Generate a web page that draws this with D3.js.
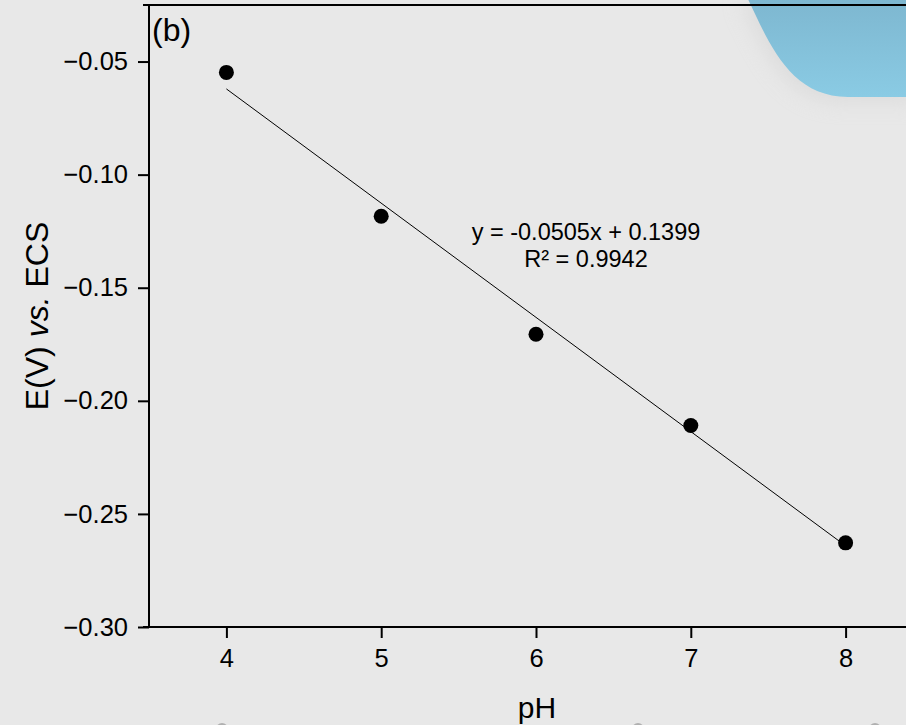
<!DOCTYPE html>
<html>
<head>
<meta charset="utf-8">
<script src="https://cdn.jsdelivr.net/npm/d3@7"></script>
<style>
  html, body { margin: 0; padding: 0; background: #e8e8e8; overflow: hidden; }
  svg { display: block; font-family: "Liberation Sans", Arial, sans-serif; }
</style>
</head>
<body>
<div id="chart"></div>
<script>
// measured points (pH vs potential)
const pH = [4, 5, 6, 7, 8];
const potential = [-0.0548, -0.1184, -0.1706, -0.2109, -0.2628];

// linear fit shown on the chart, ends at pH 4 and 8
const fitX = [4, 8];
const fitY = [-0.0621, -0.2641];
const fitLabel = ['y = -0.0505x + 0.1399', 'R² = 0.9942'];

const xTicks = [4, 5, 6, 7, 8];
const xMinor = [3.5, 4.5, 5.5, 6.5, 7.5, 8.5];
const yTicks = [-0.30, -0.25, -0.20, -0.15, -0.10, -0.05];
const yMinor = [-0.275, -0.225, -0.175, -0.125, -0.075, -0.025];

const width = 906, height = 725;
const margin = { top: 5, left: 149, bottom: 98 };
const plotBottom = height - margin.bottom;

const svg = d3.select('#chart')
  .append('svg')
  .attr('width', width)
  .attr('height', height);

const defs = svg.append('defs');
const grad = defs.append('linearGradient')
  .attr('id', 'blob')
  .attr('x1', 0).attr('y1', 0).attr('x2', 0).attr('y2', 1);
grad.append('stop').attr('offset', '0%').attr('stop-color', '#7db6cf');
grad.append('stop').attr('offset', '100%').attr('stop-color', '#8acbe4');
defs.append('filter').attr('id', 'soft')
  .attr('x', '-50%').attr('y', '-50%').attr('width', '200%').attr('height', '200%')
  .append('feGaussianBlur').attr('stdDeviation', 10);

// background decoration (slide shape at top right)
const blobPath = 'M746,-5 C768,40 788,97 848,97 L920,97 L920,-5 Z';
svg.append('path')
  .attr('d', blobPath)
  .attr('fill', '#d2d2d2')
  .attr('opacity', 0.5)
  .attr('transform', 'translate(-6,6)')
  .attr('filter', 'url(#soft)');
svg.append('path')
  .attr('d', blobPath)
  .attr('fill', 'url(#blob)');

// bits of shapes peeking in at the bottom edge
svg.selectAll('.dot-deco')
  .data([222, 638, 875])
  .enter()
  .append('circle')
  .attr('cx', d => d)
  .attr('cy', 729)
  .attr('r', 6)
  .attr('fill', '#b0b0b0');

const x = d3.scaleLinear()
  .domain([3.5, 8.5])
  .range([margin.left, margin.left + 5 * 154.8]);

const y = d3.scaleLinear()
  .domain([-0.30, -0.025])
  .range([plotBottom, margin.top]);

const tickFont = '25.5px';

// x axis
const xAxis = svg.append('g')
  .attr('transform', `translate(0, ${plotBottom})`);
xAxis.call(d3.axisBottom(x).tickValues(xMinor).tickSize(6).tickFormat(''));
xAxis.call(d3.axisBottom(x).tickValues(xTicks).tickSize(11).tickPadding(11).tickFormat(d3.format('d')));
xAxis.selectAll('.domain').remove();
xAxis.selectAll('line').attr('stroke', '#000').attr('stroke-width', 2);
xAxis.selectAll('text')
  .attr('fill', '#000')
  .style('font-size', tickFont);

// y axis
const yAxis = svg.append('g')
  .attr('transform', `translate(${margin.left}, 0)`);
yAxis.call(d3.axisLeft(y).tickValues(yMinor).tickSize(6).tickFormat(''));
yAxis.call(d3.axisLeft(y).tickValues(yTicks).tickSize(11).tickPadding(10)
  .tickFormat(d => d3.format('.2f')(d).replace('-', '\u2212')));
yAxis.selectAll('.domain').remove();
yAxis.selectAll('line').attr('stroke', '#000').attr('stroke-width', 2);
yAxis.selectAll('text')
  .attr('fill', '#000')
  .style('font-size', tickFont);

// frame lines
svg.append('line')
  .attr('x1', margin.left).attr('x2', margin.left)
  .attr('y1', margin.top).attr('y2', plotBottom + 1)
  .attr('stroke', '#000').attr('stroke-width', 2);
svg.append('line')
  .attr('x1', margin.left - 6).attr('x2', width)
  .attr('y1', plotBottom).attr('y2', plotBottom)
  .attr('stroke', '#000').attr('stroke-width', 2);
svg.append('line')
  .attr('x1', margin.left - 6).attr('x2', width)
  .attr('y1', margin.top).attr('y2', margin.top)
  .attr('stroke', '#000').attr('stroke-width', 2);

// fit line
svg.append('line')
  .attr('x1', x(fitX[0])).attr('y1', y(fitY[0]))
  .attr('x2', x(fitX[1])).attr('y2', y(fitY[1]))
  .attr('stroke', '#000')
  .attr('stroke-width', 1);

// points
svg.selectAll('.pt')
  .data(pH)
  .enter()
  .append('circle')
  .attr('class', 'pt')
  .attr('cx', d => x(d))
  .attr('cy', (d, i) => y(potential[i]))
  .attr('r', 7.5)
  .attr('fill', '#000');

// equation label
svg.selectAll('.eq')
  .data(fitLabel)
  .enter()
  .append('text')
  .attr('x', 586)
  .attr('y', (d, i) => 240 + i * 27)
  .attr('text-anchor', 'middle')
  .style('font-size', '23.5px')
  .text(d => d);

// panel label
svg.append('text')
  .attr('x', 152)
  .attr('y', 41)
  .style('font-size', '32px')
  .text('(b)');

// axis titles
svg.append('text')
  .attr('x', 537)
  .attr('y', 718)
  .attr('text-anchor', 'middle')
  .style('font-size', '30px')
  .text('pH');

const yTitle = svg.append('text')
  .attr('transform', `translate(48, ${(margin.top + plotBottom) / 2}) rotate(-90)`)
  .attr('text-anchor', 'middle')
  .style('font-size', '32px');
yTitle.append('tspan').text('E(V) ');
yTitle.append('tspan').style('font-style', 'italic').text('vs.');
yTitle.append('tspan').text(' ECS');
</script>
</body>
</html>
